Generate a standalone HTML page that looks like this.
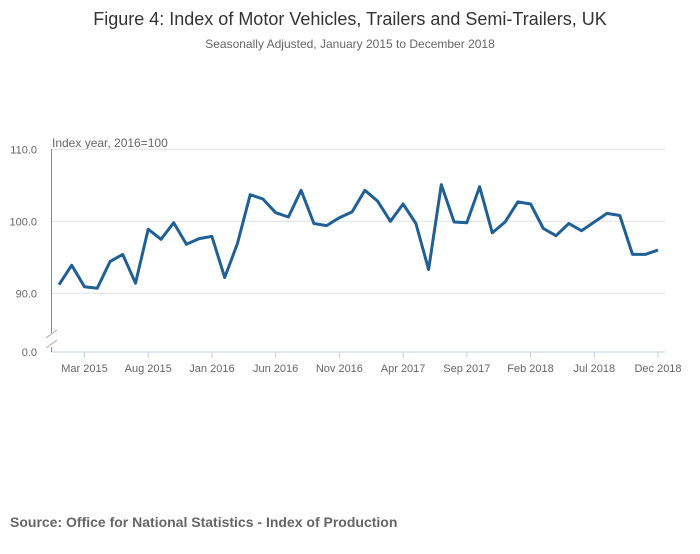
<!DOCTYPE html>
<html><head><meta charset="utf-8"><style>
body{margin:0;background:#fff;font-family:"Liberation Sans",sans-serif}
svg text{font-family:"Liberation Sans",sans-serif}
</style></head><body>
<svg width="700" height="549" viewBox="0 0 700 549">
<text x="350" y="25" text-anchor="middle" font-size="18" fill="#333">Figure 4: Index of Motor Vehicles, Trailers and Semi-Trailers, UK</text>
<text x="350" y="48" text-anchor="middle" font-size="12" fill="#666">Seasonally Adjusted, January 2015 to December 2018</text>
<text x="52" y="147" font-size="12" fill="#666">Index year, 2016=100</text>
<g id="grid"></g>
<g id="axes"></g>
<path id="line" fill="none" stroke="#206095" stroke-width="3" stroke-linejoin="round"></path>
<text x="10" y="527" font-size="14" font-weight="bold" fill="#666">Source: Office for National Statistics - Index of Production</text>
</svg>
<script>
const values=[91.2,93.9,90.9,90.7,94.4,95.4,91.4,98.9,97.5,99.8,96.8,97.6,97.9,92.2,96.9,103.7,103.1,101.2,100.6,104.3,99.7,99.4,100.5,101.3,104.3,102.8,100.0,102.4,99.7,93.3,105.1,99.9,99.8,104.8,98.4,99.9,102.7,102.4,99.0,98.0,99.7,98.7,99.9,101.1,100.8,95.4,95.4,96.0];
const yTicks=[110,100,90];
const yTickLabels=["110.0","100.0","90.0"];
const xTickIndex=[2,7,12,17,22,27,32,37,42,47];
const xTickLabels=["Mar 2015","Aug 2015","Jan 2016","Jun 2016","Nov 2016","Apr 2017","Sep 2017","Feb 2018","Jul 2018","Dec 2018"];
const NS="http://www.w3.org/2000/svg";
const x=i=>59+i*(658-59)/47;
const y=v=>221.3-(v-100)*7.2;
function mk(tag,attrs,parent,text){const e=document.createElementNS(NS,tag);for(const k in attrs)e.setAttribute(k,attrs[k]);if(text!==undefined)e.textContent=text;document.getElementById(parent).appendChild(e);return e;}
yTicks.forEach((t,i)=>{
 const g=mk('line',{x1:52,x2:665,y1:y(t),y2:y(t),stroke:'#e0e0e0','stroke-width':1},'grid');
 
 
 const l=mk('text',{x:37,y:y(t)+4,'text-anchor':'end','font-size':11,fill:'#666'},'grid',yTickLabels[i]);
 
 
});
const z=mk('text',{x:37,y:356,'text-anchor':'end','font-size':11,fill:'#666'},'grid','0.0');


const ya=mk('path',{d:'M51.5 149V333 M51.5 347V352',stroke:'#888','stroke-width':1,fill:'none'},'axes');


const br=mk('path',{d:'M46 338L57 330 M46 348L57 340',stroke:'#aaa','stroke-width':1,fill:'none'},'axes');


const xa=mk('line',{x1:52,x2:665,y1:352,y2:352,stroke:'#bcd0e6','stroke-width':1},'axes');


xTickIndex.forEach((idx,i)=>{
 const t=mk('line',{x1:x(idx),x2:x(idx),y1:352,y2:358,stroke:'#bcd0e6'},'axes');
 
 
 const l=mk('text',{x:x(idx),y:372,'text-anchor':'middle','font-size':11,fill:'#666'},'axes',xTickLabels[i]);
 
 
});
document.getElementById('line').setAttribute('d',values.map((v,i)=>(i?'L':'M')+x(i).toFixed(1)+' '+y(v).toFixed(1)).join(' '));
</script>
</body></html>
